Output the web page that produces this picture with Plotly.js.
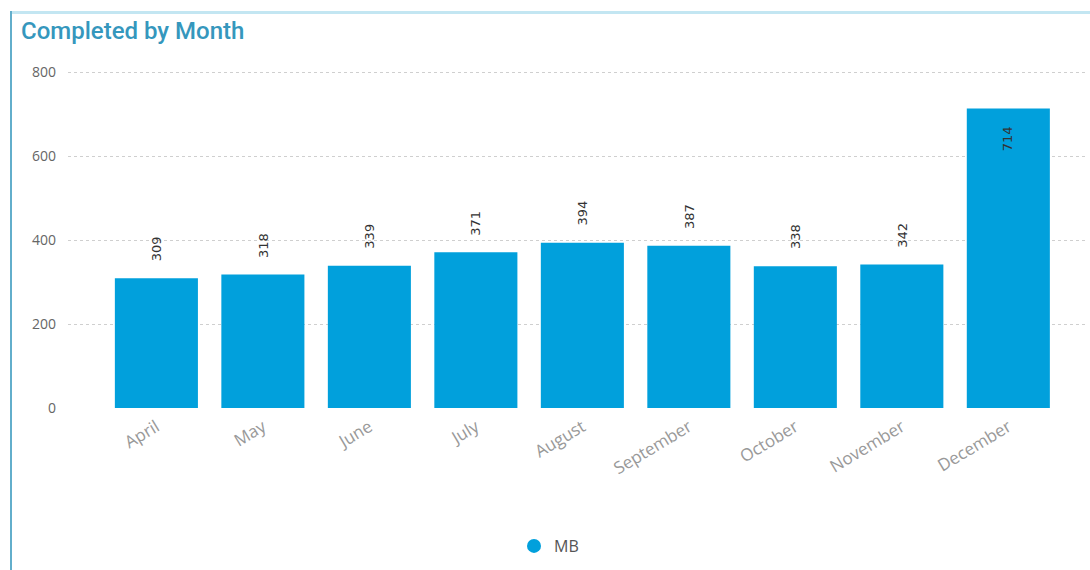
<!DOCTYPE html>
<html>
<head>
<meta charset="utf-8">
<script src="https://cdn.plot.ly/plotly-3.0.1.min.js"></script>
<style>
html,body{margin:0;padding:0;background:#fff;}
#wrap{position:relative;width:1090px;height:570px;}
#chart{position:absolute;left:0;top:0;width:1090px;height:570px;}
#frameTop{position:absolute;left:10px;top:11px;width:1080px;height:3px;background:#c3e6f2;pointer-events:none;}
#frameLeft{position:absolute;left:10px;top:11px;width:2px;height:559px;background:#62aecb;pointer-events:none;}
</style>
</head>
<body>
<div id="wrap">
<div id="chart"></div>
<div id="frameTop"></div>
<div id="frameLeft"></div>
</div>
<script>
const months = ["April","May","June","July","August","September","October","November","December"];
const mbValues = [309, 318, 339, 371, 394, 387, 338, 342, 714];
const seriesName = "MB";
const yTicks = [0, 200, 400, 600, 800];

const barColor = "#01a0dc";
const labelFont = {family: "Segoe UI, DejaVu Sans, sans-serif", size: 13, color: "#333"};

const traces = [
  {
    type: "bar",
    x: months,
    y: mbValues,
    name: seriesName,
    showlegend: false,
    marker: {color: barColor},
    hoverinfo: "x+y"
  },
  {
    type: "scatter",
    mode: "markers",
    x: [null],
    y: [null],
    name: seriesName,
    marker: {color: barColor, size: 14, symbol: "circle"},
    showlegend: true
  }
];

const lastIdx = mbValues.length - 1;
const annotations = mbValues.map((v, i) => ({
  x: months[i],
  y: v,
  xref: "x",
  yref: "y",
  text: String(v),
  showarrow: false,
  textangle: -90,
  font: labelFont,
  xanchor: "center",
  yanchor: i === lastIdx ? "top" : "bottom",
  yshift: i === lastIdx ? -16 : 15
}));

const layout = {
  width: 1090,
  height: 570,
  margin: {l: 68, r: 5, t: 64, b: 162},
  paper_bgcolor: "rgba(0,0,0,0)",
  plot_bgcolor: "rgba(0,0,0,0)",
  bargap: 0.22,
  annotations: annotations,
  title: {
    text: "Completed by Month",
    x: 21/1090, xanchor: "left", xref: "container",
    y: 1 - 31/570, yanchor: "middle", yref: "container",
    font: {family: "Roboto, sans-serif", size: 24, weight: 500, color: "#3597bd"}
  },
  xaxis: {
    type: "category",
    range: [-0.83, 8.72],
    tickangle: -31,
    tickfont: {family: "Open Sans, DejaVu Sans, sans-serif", size: 17, color: "#999999"},
    showgrid: false,
    zeroline: false,
    showline: false,
    ticks: "",
    ticklabelstandoff: 5,
    automargin: false
  },
  yaxis: {
    range: [0, 820],
    tickvals: yTicks,
    ticktext: yTicks.map(String),
    tickfont: {family: "Open Sans, DejaVu Sans, sans-serif", size: 14, color: "#666"},
    showgrid: true,
    gridcolor: "#cfcfcf",
    griddash: "dot",
    gridwidth: 1,
    zeroline: false,
    showline: false,
    ticklabelstandoff: 11,
    automargin: false
  },
  legend: {
    orientation: "h",
    xref: "container",
    yref: "container",
    x: 549/1090, xanchor: "center",
    y: 24/570, yanchor: "middle",
    font: {family: "Open Sans, DejaVu Sans, sans-serif", size: 16, color: "#555"},
    itemwidth: 30
  }
};

Plotly.newPlot("chart", traces, layout, {displayModeBar: false, staticPlot: true});
</script>
</body>
</html>
